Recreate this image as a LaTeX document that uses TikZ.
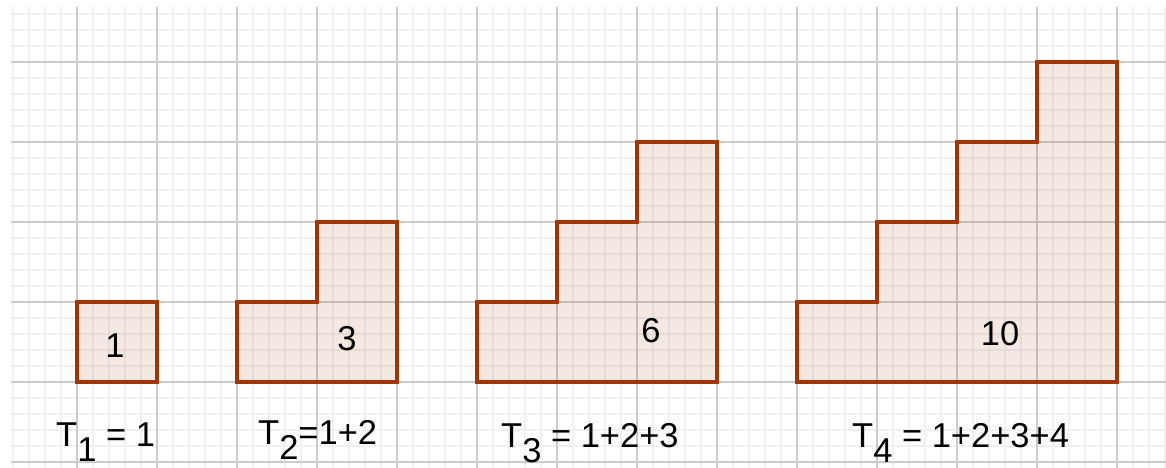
\documentclass[tikz,border=0pt]{standalone}
\usepackage{fontspec}
\setmainfont{Liberation Sans}
\definecolor{edgecol}{RGB}{160,54,4}
\definecolor{majorcol}{RGB}{204,204,204}
\definecolor{minorcol}{RGB}{240,240,240}
\newcommand\lowsub[1]{\raisebox{-15pt}{#1}}
\tikzset{
  minorline/.style={draw=minorcol, line width=1.3pt},
  majorline/.style={draw=majorcol, line width=1.8pt},
  stair/.style={draw=edgecol, line width=3.4pt, line join=miter, fill=edgecol, fill opacity=0.11, draw opacity=1},
  num/.style={inner sep=0pt, anchor=base, font=\fontsize{34.5}{40}\selectfont},
  lab/.style={inner sep=0pt, anchor=base west, font=\fontsize{34.5}{40}\selectfont}
}
\begin{document}
\begin{tikzpicture}[x=1pt, y=-1pt]
\useasboundingbox (0,0) rectangle (1166,468);
\fill[white] (0,0) rectangle (1166,468);
\begin{scope}
\clip (11,7) rectangle (1166,468);
\foreach \x in {13,29,...,1165} \draw[minorline] (\x,7) -- (\x,468);
\foreach \y in {14,30,...,467} \draw[minorline] (11,\y) -- (1166,\y);
\foreach \x in {77,157,...,1117} \draw[majorline] (\x,7) -- (\x,468);
\foreach \y in {62,142,...,462} \draw[majorline] (11,\y) -- (1166,\y);
\end{scope}
% staircases
\draw[stair] (77,382) rectangle (157,302);
\draw[stair] (237,382) -- (237,302) -- (317,302) -- (317,222) -- (397,222) -- (397,382) -- cycle;
\draw[stair] (477,382) -- (477,302) -- (557,302) -- (557,222) -- (637,222) -- (637,142) -- (717,142) -- (717,382) -- cycle;
\draw[stair] (797,382) -- (797,302) -- (877,302) -- (877,222) -- (957,222) -- (957,142) -- (1037,142) -- (1037,62) -- (1117,62) -- (1117,382) -- cycle;
% counts
\node[num] (n1) at (115,357) {1};
\node[num] (n3) at (347,350) {3};
\node[num] (n6) at (651,342) {6};
\node[num] (n10) at (1000,345) {10};
% formulas
\node[lab] (t1) at (56,446) {T\lowsub{1} = 1};
\node[lab] (t2) at (258,444) {T\lowsub{2}=1+2};
\node[lab] (t3) at (501,447) {T\lowsub{3} = 1+2+3};
\node[lab] (t4) at (852,447) {T\lowsub{4} = 1+2+3+4};
\end{tikzpicture}
\end{document}
